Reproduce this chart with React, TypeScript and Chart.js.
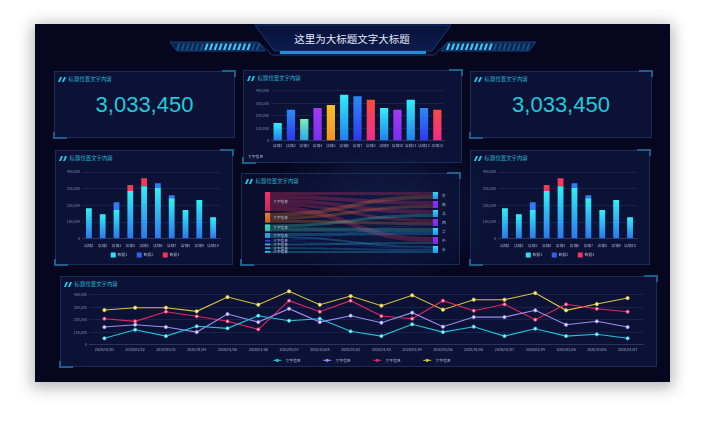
import React, { useEffect, useRef } from 'react';
import { Chart, registerables } from 'chart.js';

Chart.register(...registerables);

const FONT = '"Noto Sans CJK SC", "Noto Sans", sans-serif';
Chart.defaults.font.family = FONT;

// ---------------- data ----------------
const dashboardTitle = '这里为大标题文字大标题';
const panelTitle = '标题位置文字内容';
const kpiValue = 3033450;

const shopLabels = ['店铺1', '店铺2', '店铺3', '店铺4', '店铺5', '店铺6', '店铺7', '店铺8', '店铺9', '店铺10', '店铺11', '店铺12', '店铺13'];
const shopValues = [141000, 248000, 173000, 261000, 285000, 368000, 355000, 328000, 261000, 248000, 328000, 261000, 248000];
const shopSeriesName = '文字信息';

const stackLabels = ['店铺1', '店铺2', '店铺3', '店铺4', '店铺5', '店铺6', '店铺7', '店铺8', '店铺9', '店铺10'];
const stackNames = ['数据1', '数据2', '数据3'];
const stackData1 = [182000, 146000, 172000, 286000, 314000, 304000, 242000, 172000, 232000, 128000];
const stackData2 = [0, 0, 46000, 0, 0, 28000, 18000, 0, 0, 0];
const stackData3 = [0, 0, 0, 36000, 48000, 0, 0, 0, 0, 0];

const dateLabels = ['2020/01/01', '2020/01/02', '2020/01/03', '2020/01/04', '2020/01/05', '2020/01/06', '2020/01/07', '2020/01/08', '2020/01/02', '2020/01/03', '2020/01/04', '2020/01/05', '2020/01/06', '2020/01/07', '2020/01/04', '2020/01/05', '2020/01/06', '2020/01/07'];
const lineNames = ['文字信息', '文字信息', '文字信息', '文字信息'];
const lineCyan = [51000, 120000, 69000, 147000, 131000, 232000, 192000, 208000, 107000, 69000, 163000, 101000, 144000, 69000, 128000, 69000, 83000, 51000];
const linePurple = [141000, 160000, 141000, 101000, 245000, 181000, 288000, 181000, 232000, 176000, 256000, 144000, 221000, 221000, 275000, 160000, 187000, 141000];
const lineRed = [208000, 187000, 264000, 227000, 187000, 123000, 352000, 264000, 352000, 229000, 208000, 352000, 272000, 323000, 200000, 323000, 288000, 264000];
const lineYellow = [277000, 296000, 296000, 267000, 381000, 320000, 427000, 320000, 389000, 312000, 395000, 280000, 360000, 360000, 413000, 275000, 325000, 373000];

const sankeyLeftNames = ['文字信息', '文字信息', '文字信息', '文字信息', '文字信息', '文字信息', '文字信息', '文字信息'];
const sankeyRightNames = ['东', '南', '北', '西', '华', '中', '京'];
const sankeySource = [0, 0, 0, 0, 0, 1, 1, 1, 2, 2, 3, 3, 4, 4, 5, 6, 7];
const sankeyTarget = [0, 1, 2, 3, 5, 0, 1, 3, 2, 4, 4, 6, 3, 6, 5, 6, 6];
const sankeyValue = [6, 8, 8, 6, 10, 8, 6, 6, 6, 8, 6, 4, 2, 2, 4, 4, 4];

// ---------------- styles ----------------
const shopTop = ['#34eef6', '#2b8af6', '#78f0b2', '#a23af4', '#f6c02a', '#34eef6', '#2b8af6', '#f64c3c', '#34eef6', '#a23af4', '#34eef6', '#2b8af6', '#f64c3c'];
const shopBottom = ['#1f7ef0', '#2f35ee', '#28a6ea', '#7c2cf0', '#f5921f', '#1f7ef0', '#2f35ee', '#f02b8c', '#1f7ef0', '#7c2cf0', '#1f7ef0', '#2f35ee', '#f02b8c'];
const stackTop = ['#30f0f4', '#2f7cf6', '#f4385a'];
const stackBottom = ['#2a76ef', '#2c4bf0', '#ef2c70'];
const lineColors = ['#22c3dc', '#9d8cf2', '#e5265f', '#d9c43c'];
const linePointFill = ['#b8f6ff', '#ece6ff', '#ffc0d2', '#fff4b0'];
const sankeyLeftColors = ['#f0336a', '#ef7a2e', '#44e0c4', '#2ab4f2', '#2c4cf0', '#2ac4f2', '#2aa8f0', '#2acaf2'];
const sankeyRightColors = ['#2cdcf4', '#8e2ef0', '#2cdcf4', '#8e2ef0', '#2cdcf4', '#8e2ef0', '#2cdcf4'];

const GRID = '#1a2753';
const AXIS = '#26365f';
const YTICK = '#7c86a6';
const XTICK = '#a3abc4';
const LEGEND_TEXT = '#b6bed2';

// ---------------- helpers ----------------
function hexA(hex: string, a: number) {
  const n = parseInt(hex.slice(1), 16);
  return `rgba(${(n >> 16) & 255},${(n >> 8) & 255},${n & 255},${a})`;
}

function barGradient(c: any, top: string, bottom: string, lo: number, hi: number) {
  const chart = c.chart;
  const ys = chart.scales && chart.scales.y;
  if (!chart.chartArea || !ys) return top;
  const y0 = ys.getPixelForValue(hi);
  const y1 = ys.getPixelForValue(lo);
  if (!isFinite(y0) || !isFinite(y1) || Math.abs(y1 - y0) < 0.5) return top;
  const g = chart.ctx.createLinearGradient(0, y0, 0, y1);
  g.addColorStop(0, top);
  g.addColorStop(1, bottom);
  return g;
}

const miniLegend = {
  id: 'miniLegend',
  afterDraw(chart: any, _a: any, o: any) {
    if (!o || !o.icon) return;
    const ctx = chart.ctx;
    const ds = chart.data.datasets;
    ctx.save();
    ctx.font = `${o.fontSize}px ${FONT}`;
    ctx.textBaseline = 'middle';
    ctx.textAlign = 'left';
    const iconW = o.icon === 'none' ? 0 : o.iconWidth;
    const gap = o.icon === 'none' ? 0 : o.iconGap;
    const ws = ds.map((d: any) => iconW + gap + ctx.measureText(d.label).width);
    const total = ws.reduce((a: number, b: number) => a + b, 0) + o.itemGap * (ws.length - 1);
    let x = o.align === 'start' ? o.x : o.x - total / 2;
    ds.forEach((d: any, i: number) => {
      const col = o.colors ? o.colors[i] : '#fff';
      if (o.icon === 'box') {
        ctx.fillStyle = col;
        ctx.fillRect(x, o.y - o.iconWidth / 2, o.iconWidth, o.iconWidth);
      } else if (o.icon === 'line') {
        ctx.strokeStyle = col;
        ctx.lineWidth = 1;
        ctx.beginPath();
        ctx.moveTo(x, o.y);
        ctx.lineTo(x + iconW, o.y);
        ctx.stroke();
        ctx.beginPath();
        ctx.arc(x + iconW / 2, o.y, 1.6, 0, Math.PI * 2);
        ctx.fillStyle = col;
        ctx.fill();
      }
      ctx.fillStyle = LEGEND_TEXT;
      ctx.fillText(d.label, x + iconW + gap, o.y);
      x += ws[i] + o.itemGap;
    });
    ctx.restore();
  },
};

const sankeyPlugin = {
  id: 'sankeyFlows',
  afterDatasetsDraw(chart: any, _a: any, o: any) {
    const { ctx } = chart;
    const xs = chart.scales.x;
    const ys = chart.scales.y;
    const nL = sankeyLeftNames.length;
    const nR = sankeyRightNames.length;
    const totL = new Array(nL).fill(0);
    const totR = new Array(nR).fill(0);
    sankeyValue.forEach((v, k) => {
      totL[sankeySource[k]] += v;
      totR[sankeyTarget[k]] += v;
    });
    const startL: number[] = [];
    let acc = 0;
    totL.forEach((t) => { startL.push(acc); acc += t + o.leftGap; });
    const startR: number[] = [];
    acc = 0;
    totR.forEach((t) => { startR.push(acc); acc += t + o.rightGap; });
    const curL = startL.slice();
    const curR = startR.slice();
    const order = sankeyValue.map((_, k) => k).sort((a, b) => sankeySource[a] - sankeySource[b] || sankeyTarget[a] - sankeyTarget[b]);
    const xL = xs.getPixelForValue(o.nodeWidth);
    const xR = xs.getPixelForValue(1 - o.nodeWidth);
    const xm = (xL + xR) / 2;
    ctx.save();
    order.forEach((k) => {
      const s = sankeySource[k];
      const t = sankeyTarget[k];
      const v = sankeyValue[k];
      const a0 = ys.getPixelForValue(curL[s]);
      const a1 = ys.getPixelForValue(curL[s] + v);
      const b0 = ys.getPixelForValue(curR[t]);
      const b1 = ys.getPixelForValue(curR[t] + v);
      curL[s] += v;
      curR[t] += v;
      const g = ctx.createLinearGradient(xL, 0, xR, 0);
      g.addColorStop(0, hexA(sankeyLeftColors[s], o.flowAlpha));
      g.addColorStop(1, hexA(sankeyLeftColors[s], o.flowAlpha * 0.8));
      ctx.fillStyle = g;
      ctx.beginPath();
      ctx.moveTo(xL, a0);
      ctx.bezierCurveTo(xm, a0, xm, b0, xR, b0);
      ctx.lineTo(xR, b1);
      ctx.bezierCurveTo(xm, b1, xm, a1, xL, a1);
      ctx.closePath();
      ctx.fill();
    });
    ctx.font = `${o.fontSize}px ${FONT}`;
    ctx.textBaseline = 'middle';
    ctx.textAlign = 'left';
    const x0 = xs.getPixelForValue(0);
    totL.forEach((t, i) => {
      const y0 = ys.getPixelForValue(startL[i]);
      const y1 = ys.getPixelForValue(startL[i] + t);
      const g = ctx.createLinearGradient(0, y0, 0, y1);
      g.addColorStop(0, sankeyLeftColors[i]);
      g.addColorStop(1, hexA(sankeyLeftColors[i], 0.8));
      ctx.fillStyle = g;
      ctx.fillRect(x0, y0, xL - x0, y1 - y0);
      ctx.fillStyle = LEGEND_TEXT;
      ctx.fillText(sankeyLeftNames[i], xL + 3, (y0 + y1) / 2);
    });
    const x1 = xs.getPixelForValue(1);
    totR.forEach((t, i) => {
      const y0 = ys.getPixelForValue(startR[i]);
      const y1 = ys.getPixelForValue(startR[i] + t);
      const g = ctx.createLinearGradient(0, y0, 0, y1);
      g.addColorStop(0, sankeyRightColors[i]);
      g.addColorStop(1, i % 2 === 0 ? '#2a8cf0' : '#7a2cf0');
      ctx.fillStyle = g;
      ctx.fillRect(xR, y0, x1 - xR, y1 - y0);
      ctx.fillStyle = LEGEND_TEXT;
      ctx.fillText(sankeyRightNames[i], x1 + 4, (y0 + y1) / 2);
    });
    ctx.restore();
  },
};

function fixW(w: number) {
  return (s: any) => { s.width = w; };
}
function fixH(h: number) {
  return (s: any) => { s.height = h; };
}

function yAxis(width: number, max: number) {
  return {
    min: 0,
    max,
    ticks: { stepSize: 100000, color: YTICK, font: { size: 3.7 }, padding: 2 },
    grid: { color: GRID, drawTicks: false, lineWidth: 0.8 },
    border: { display: false },
    afterFit: fixW(width),
  };
}
function xAxis(height: number, pad: number, stacked = false, offset = true) {
  return {
    stacked,
    offset,
    grid: { display: false, drawTicks: false },
    border: { color: AXIS, width: 1 },
    ticks: { color: XTICK, font: { size: 3.7 }, padding: pad, maxRotation: 0, autoSkip: false },
    afterFit: fixH(height),
  };
}

const baseOpts = {
  responsive: false,
  animation: false as const,
  events: [] as any[],
};

function shopConfig(): any {
  return {
    type: 'bar',
    data: {
      labels: shopLabels,
      datasets: [{
        label: shopSeriesName,
        data: shopValues,
        backgroundColor: (c: any) => c.dataIndex === undefined ? shopTop[0] : barGradient(c, shopTop[c.dataIndex], shopBottom[c.dataIndex], 0, shopValues[c.dataIndex]),
        barPercentage: 0.62,
        categoryPercentage: 1,
      }],
    },
    options: {
      ...baseOpts,
      layout: { padding: { left: 0, right: 18, top: 20.7, bottom: 0 } },
      scales: { x: xAxis(22.3, 3), y: { ...yAxis(28, 400000) } },
      plugins: {
        legend: { display: false },
        tooltip: { enabled: false },
        miniLegend: { icon: 'none', align: 'start', x: 5, y: 87, fontSize: 3.8, itemGap: 0 },
      },
    },
    plugins: [miniLegend],
  };
}

function stackConfig(yW: number): any {
  const series = [stackData1, stackData2, stackData3];
  return {
    type: 'bar',
    data: {
      labels: stackLabels,
      datasets: series.map((d, si) => ({
        label: stackNames[si],
        data: d,
        backgroundColor: (c: any) => {
          if (c.dataIndex === undefined) return stackTop[si];
          if (si === 0) return barGradient(c, stackTop[0], stackBottom[0], 0, d[c.dataIndex]);
          return stackTop[si];
        },
        barPercentage: 0.42,
        categoryPercentage: 1,
      })),
    },
    options: {
      ...baseOpts,
      layout: { padding: { left: 0, right: 13, top: 22, bottom: 0 } },
      scales: { x: xAxis(26.3, 4.3, true), y: { ...yAxis(yW, 400000), stacked: true } },
      plugins: {
        legend: { display: false },
        tooltip: { enabled: false },
        miniLegend: { icon: 'box', align: 'center', x: 90, y: 105, fontSize: 3.8, iconWidth: 5, iconGap: 1.8, itemGap: 9.5, colors: ['#2ee0f4', '#2e62f4', '#f2335e'] },
      },
    },
    plugins: [miniLegend],
  };
}

function lineConfig(): any {
  const series = [lineCyan, linePurple, lineRed, lineYellow];
  return {
    type: 'line',
    data: {
      labels: dateLabels,
      datasets: series.map((d, i) => ({
        label: lineNames[i],
        data: d,
        borderColor: lineColors[i],
        backgroundColor: lineColors[i],
        borderWidth: 1.1,
        tension: 0,
        pointRadius: 1.6,
        pointBorderWidth: 0.9,
        pointBackgroundColor: linePointFill[i],
        pointBorderColor: lineColors[i],
        clip: false,
      })),
    },
    options: {
      ...baseOpts,
      layout: { padding: { left: 0, right: 14, top: 18.7, bottom: 0 } },
      scales: { x: xAxis(22.3, 3), y: yAxis(29, 400000) },
      plugins: {
        legend: { display: false },
        tooltip: { enabled: false },
        miniLegend: { icon: 'line', align: 'center', x: 302, y: 84.3, fontSize: 3.8, iconWidth: 8, iconGap: 4.3, itemGap: 22.5, colors: lineColors },
      },
    },
    plugins: [miniLegend],
  };
}

function sankeyConfig(): any {
  const leftGap = 3.4;
  const rightGap = 4;
  const total = sankeyValue.reduce((a, b) => a + b, 0);
  const span = Math.max(total + leftGap * (sankeyLeftNames.length - 1), total + rightGap * (sankeyRightNames.length - 1));
  return {
    type: 'scatter',
    data: { datasets: [{ data: [] }] },
    options: {
      ...baseOpts,
      layout: { padding: { left: 24, right: 22, top: 19, bottom: 12 } },
      scales: {
        x: { type: 'linear', min: 0, max: 1, display: false },
        y: { type: 'linear', min: 0, max: span, reverse: true, display: false },
      },
      plugins: {
        legend: { display: false },
        tooltip: { enabled: false },
        sankeyFlows: { leftGap, rightGap, nodeWidth: 0.03, flowAlpha: 0.3, fontSize: 3.7 },
      },
    },
    plugins: [sankeyPlugin],
  };
}

function ChartBox({ x, y, w, h, make }: { x: number; y: number; w: number; h: number; make: () => any }) {
  const ref = useRef<HTMLCanvasElement>(null);
  useEffect(() => {
    const chart = new Chart(ref.current as HTMLCanvasElement, make());
    return () => chart.destroy();
  }, []);
  return <canvas ref={ref} width={w} height={h} style={{ position: 'absolute', left: x, top: y, width: w, height: h }} />;
}

const BRACKET = '#1f5e8c';

function Panel({ x, y, w, h, bg }: { x: number; y: number; w: number; h: number; bg?: string }) {
  return (
    <div style={{ position: 'absolute', left: x, top: y, width: w, height: h, boxSizing: 'border-box', border: '1px solid #172d5a', background: bg ?? 'rgba(13,22,62,0.78)' }}>
      <div style={{ position: 'absolute', right: -2, top: -2, width: 12, height: 5, borderTop: `2px solid ${BRACKET}`, borderRight: `2px solid ${BRACKET}` }} />
      <div style={{ position: 'absolute', left: -2, bottom: -2, width: 12, height: 5, borderBottom: `2px solid ${BRACKET}`, borderLeft: `2px solid ${BRACKET}` }} />
      <div style={{ position: 'absolute', left: 4, top: 3, height: 8, display: 'flex', alignItems: 'center' }}>
        <div style={{ width: 2, height: 5, background: '#22c6e0', transform: 'skewX(-22deg)', marginRight: 1.6 }} />
        <div style={{ width: 2, height: 5, background: '#22c6e0', transform: 'skewX(-22deg)' }} />
        <span style={{ fontSize: 5.4, lineHeight: '8px', color: '#2bb6d2', marginLeft: 4, fontFamily: FONT, whiteSpace: 'nowrap' }}>{panelTitle}</span>
      </div>
    </div>
  );
}

function Kpi({ x, y, w, h }: { x: number; y: number; w: number; h: number }) {
  return (
    <div style={{ position: 'absolute', left: x, top: y, width: w, height: h, display: 'flex', alignItems: 'center', justifyContent: 'center', paddingTop: 1, boxSizing: 'border-box' }}>
      <span style={{ fontFamily: '"Liberation Sans", Arial, sans-serif', fontSize: 22, color: '#1fcbdc', lineHeight: 1 }}>{kpiValue.toLocaleString('en-US')}</span>
    </div>
  );
}

function Header() {
  const leftStripes = [];
  for (let i = 0; i < 18; i++) {
    const sx = 176 + i * 4.7;
    const bright = sx >= 203 && sx <= 250;
    leftStripes.push(<polygon key={'l' + i} points={`${sx + 2.2},43.5 ${sx + 4.5},43.5 ${sx + 2.3},50 ${sx},50`} fill={bright ? '#3cc8f0' : '#18507e'} />);
  }
  const rightStripes = [];
  for (let i = 0; i < 18; i++) {
    const sx = 446 + i * 4.7;
    const bright = sx <= 492;
    rightStripes.push(<polygon key={'r' + i} points={`${sx + 2.2},43.5 ${sx + 4.5},43.5 ${sx + 2.3},50 ${sx},50`} fill={bright ? '#3cc8f0' : '#18507e'} />);
  }
  return (
    <svg width={704} height={70} style={{ position: 'absolute', left: 0, top: 0 }}>
      <defs>
        <linearGradient id="hline" x1="0" x2="1" y1="0" y2="0">
          <stop offset="0" stopColor="#1b3a6b" stopOpacity="0" />
          <stop offset="0.5" stopColor="#2a5a9a" stopOpacity="0.9" />
          <stop offset="1" stopColor="#1b3a6b" stopOpacity="0" />
        </linearGradient>
        <linearGradient id="plate" x1="0" x2="0" y1="0" y2="1">
          <stop offset="0" stopColor="#08123a" />
          <stop offset="1" stopColor="#0b1c4c" />
        </linearGradient>
      </defs>
      <line x1={45} y1={37} x2={660} y2={37} stroke="url(#hline)" strokeWidth={1} />
      <polygon points="255,25 451,25 432,51 274,51" fill="url(#plate)" stroke="#1a4280" strokeWidth={0.8} />
      <polygon points="170,42 258,42 265,51 177,51" fill="#0a2250" stroke="#1c4f8a" strokeWidth={0.8} />
      <polygon points="448,42 536,42 529,51 441,51" fill="#0a2250" stroke="#1c4f8a" strokeWidth={0.8} />
      {leftStripes}
      {rightStripes}
      <polyline points="258,42 272,55 434,55 448,42" fill="none" stroke="#1c4f8a" strokeWidth={0.8} />
      <rect x={280} y={51} width={146} height={3} fill="#1d90d8" />
    </svg>
  );
}

export default function App() {
  return (
    <div style={{ position: 'absolute', left: 0, top: 0, width: 704, height: 426, background: '#ffffff', overflow: 'hidden' }}>
      <div style={{ position: 'absolute', left: 35, top: 24, width: 635, height: 358, background: '#06061e', boxShadow: '0 3px 14px 3px rgba(0,0,0,0.28)' }}>
        <div style={{ position: 'absolute', inset: 0, background: 'radial-gradient(ellipse 120px 75px at 345px 185px, rgba(45,85,165,0.34), rgba(0,0,0,0))' }} />
      </div>
      <Header />
      <div style={{ position: 'absolute', left: 252, top: 31, width: 200, height: 16, textAlign: 'center', fontFamily: FONT, fontSize: 10.5, lineHeight: '16px', color: '#e2eaf6' }}>{dashboardTitle}</div>

      <Panel x={54} y={71} w={181} h={67} />
      <Panel x={243} y={70} w={219} h={93} />
      <Panel x={470} y={71} w={182} h={67} />
      <Panel x={55} y={150} w={178} h={115} />
      <Panel x={241} y={173} w={219} h={92} bg="rgba(13,22,62,0.45)" />
      <Panel x={470} y={150} w={180} h={115} />
      <Panel x={60} y={276} w={597} h={91} />

      <Kpi x={54} y={71} w={181} h={67} />
      <Kpi x={470} y={71} w={182} h={67} />

      <ChartBox x={243} y={70} w={219} h={93} make={shopConfig} />
      <ChartBox x={55} y={150} w={178} h={115} make={() => stackConfig(27)} />
      <ChartBox x={470} y={150} w={180} h={115} make={() => stackConfig(28)} />
      <ChartBox x={241} y={173} w={219} h={92} make={sankeyConfig} />
      <ChartBox x={60} y={276} w={597} h={91} make={lineConfig} />
    </div>
  );
}
